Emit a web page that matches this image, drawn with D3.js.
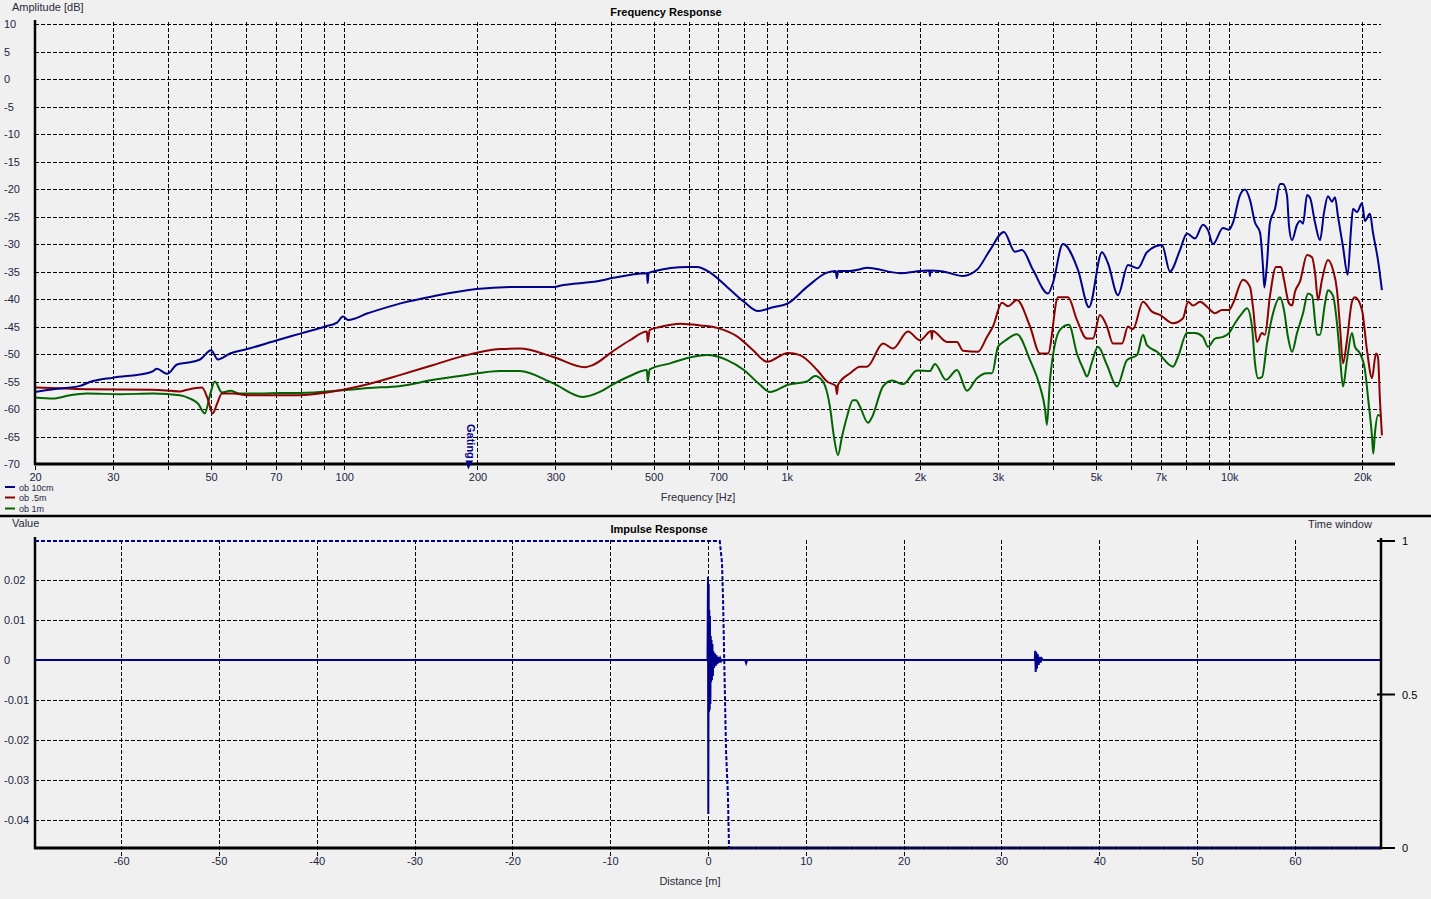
<!DOCTYPE html>
<html><head><meta charset="utf-8">
<script src="https://cdn.jsdelivr.net/npm/d3@7"></script>
<style>
html,body{margin:0;padding:0;background:#f0f0f0;}
svg{display:block;font-family:"Liberation Sans",Arial,sans-serif;}
</style></head><body>
<svg id="chart" width="1431" height="899"></svg>
<script>
// ---------- Frequency response data ----------
const seriesNames = ["ob 10cm", "ob .5m", "ob 1m"];

const blueFreq = [20,22,25.3,26.6,30,35.8,37,37.7,39.8,41.9,44.1,47.2,50,51.8,55.2,60.3,70.5,80.3,90.5,96.3,99.3,102,113,134,159,199,249,299,307,378,403,483,485,487,499,598,627,671,733,800,861,931,1006,1111,1233,1290,1298,1306,1390,1464,1518,1802,2011,2100,2106,2112,2254,2502,2690,2879,3096,3278,3400,3601,3894,3994,4208,4551,4820,5156,5320,5604,5904,6218,6516,7046,7345,7738,8024,8365,8721,8952,9188,9678,9986,10196,10576,10854,11140,11434,11736,11920,12002,12152,12362,12688,13022,13226,13506,13646,13862,14228,14452,14678,14988,15224,15624,16036,16372,16714,17068,17338,17610,18074,18518,18838,19036,19438,19950,20260,20794,21122,21678,22132];
const blueDb = [-56.9,-56.4,-55.8,-55.1,-54.3,-53.5,-53.1,-52.7,-53.6,-51.9,-51.6,-51.0,-49.3,-51.0,-49.9,-49.1,-47.5,-46.2,-45.0,-44.3,-43.2,-43.8,-42.6,-40.8,-39.5,-38.2,-37.8,-37.8,-37.6,-36.7,-36.2,-35.3,-37.1,-35.3,-35.0,-34.2,-34.2,-35.2,-37.8,-40.5,-42.2,-41.5,-40.8,-37.8,-35.2,-34.9,-36.2,-34.9,-34.9,-34.6,-34.3,-35.3,-34.9,-34.8,-35.8,-34.8,-35.0,-35.8,-34.7,-31.1,-27.8,-31.4,-31.1,-34.7,-39.0,-37.1,-30.0,-34.7,-41.5,-31.5,-33.5,-39.3,-33.8,-34.4,-31.5,-30.2,-35.0,-31.1,-28.1,-29.0,-26.5,-27.5,-30.0,-27.1,-27.4,-26.1,-21.1,-20.1,-22.0,-26.1,-27.9,-34.2,-37.9,-34.2,-26.1,-23.6,-19.1,-19.1,-21.2,-26.7,-29.3,-26.5,-25.8,-26.3,-21.1,-21.6,-26.1,-29.3,-24.3,-21.3,-22.3,-21.5,-25.0,-30.5,-35.6,-27.5,-23.6,-24.2,-22.6,-25.8,-24.5,-27.9,-32.9,-38.4];

const redFreq = [20,26.2,37,42.5,44.1,47.7,49,50.4,51.6,52.9,56,61.2,71.6,79.4,91.4,99.3,113,134,159,189,225,249,296,350,365,403,442,483,485,490,517,574,637,699,772,839,902,1006,1071,1171,1233,1290,1298,1306,1390,1464,1518,1650,1738,1879,2000,2120,2128,2136,2302,2425,2502,2704,2834,2924,3064,3162,3312,3546,3734,3894,4102,4322,4526,4768,4920,5102,5292,5462,5724,5904,6058,6384,6688,6972,7462,7862,8070,8280,8588,8906,9284,9628,9986,10196,10740,11140,11312,11552,11856,12042,12362,12754,13088,13294,13646,13862,14078,14452,14988,15382,15624,15870,16202,16714,17156,17516,17792,18074,18452,18938,19236,19950,20476,21016,21458,21678,21906,22132];
const redDb = [-56.1,-56.4,-56.5,-56.8,-56.5,-56.1,-57.9,-60.8,-59.0,-57.2,-57.2,-57.5,-57.5,-57.5,-57.0,-56.5,-55.5,-53.8,-52.0,-50.2,-49.1,-49.0,-50.5,-52.4,-52.0,-49.6,-47.5,-45.9,-47.8,-45.6,-45.1,-44.5,-44.8,-45.3,-46.8,-49.3,-51.4,-49.8,-50.2,-52.9,-55.0,-55.8,-57.3,-55.6,-53.5,-52.3,-52.3,-48.1,-49.0,-45.9,-47.5,-45.8,-47.3,-45.8,-47.8,-47.8,-49.4,-49.6,-46.9,-45.0,-40.7,-41.3,-40.2,-45.0,-49.9,-49.9,-39.7,-39.7,-43.8,-47.2,-47.2,-42.9,-45.0,-48.1,-48.1,-45.0,-45.5,-40.5,-42.3,-42.9,-44.4,-43.5,-40.5,-41.2,-40.5,-41.4,-42.6,-42.0,-42.0,-40.8,-36.5,-37.8,-41.4,-47.8,-46.2,-46.5,-39.4,-34.2,-34.2,-36.5,-40.8,-41.2,-38.7,-36.8,-32.0,-32.4,-35.2,-40.2,-36.5,-32.9,-34.7,-38.4,-45.0,-51.7,-47.5,-40.5,-39.7,-42.0,-49.3,-54.4,-49.9,-50.5,-58.4,-64.8];

const greenFreq = [20,22,24,26.2,31.1,37,42.5,44.8,46.7,48.4,49.7,51,52.9,55.2,58.1,64.5,71.6,79.4,99.3,113,134,159,189,225,249,296,346,378,403,442,483,485,490,545,614,660,733,800,870,916,1006,1111,1158,1207,1252,1278,1305,1333,1368,1411,1434,1464,1526,1558,1650,1729,1831,1969,2106,2162,2290,2425,2554,2690,2834,2910,3002,3114,3312,3546,3734,3834,3872,3934,4144,4342,4526,4694,4768,4894,5050,5292,5574,5874,6188,6384,6516,6866,7462,7660,8024,8365,8721,8952,9284,9678,9986,10302,10686,10966,11254,11434,11612,11856,12170,12560,13022,13294,13574,13862,14228,14678,15064,15382,15786,16036,16458,16714,17156,17516,17792,18074,18452,18938,19236,19744,20260,20580,21016,21156,21342,21678,21906];
const greenDb = [-57.9,-58.1,-57.5,-57.2,-57.3,-57.2,-57.5,-58.1,-59.0,-60.8,-57.5,-55.0,-57.0,-56.7,-57.2,-57.2,-57.1,-57.1,-56.6,-56.2,-55.8,-54.7,-53.8,-53.1,-53.1,-55.3,-57.8,-56.9,-55.6,-54.0,-52.9,-55.0,-52.8,-51.7,-50.5,-50.2,-51.1,-52.9,-55.6,-56.9,-55.6,-55.0,-54.0,-55.0,-59.6,-65.0,-68.4,-65.0,-61.4,-58.4,-58.4,-59.6,-62.5,-61.5,-55.9,-54.8,-55.5,-53.0,-53.1,-51.8,-54.7,-52.9,-56.7,-54.4,-53.5,-53.5,-48.7,-47.6,-46.4,-51.1,-55.9,-60.0,-62.9,-54.7,-45.6,-44.7,-49.9,-53.0,-54.1,-51.5,-48.7,-52.0,-55.9,-51.1,-50.2,-46.5,-48.4,-49.6,-52.3,-50.5,-46.2,-46.2,-46.9,-48.7,-47.2,-46.9,-46.2,-44.4,-42.6,-41.7,-45.0,-51.7,-54.4,-54.2,-48.1,-42.6,-39.7,-42.0,-46.9,-49.6,-46.2,-42.6,-39.0,-39.4,-46.5,-46.5,-40.8,-38.4,-39.4,-44.4,-50.5,-55.9,-51.1,-46.2,-48.7,-49.9,-52.9,-57.8,-65.0,-68.1,-64.4,-61.1,-61.3];

const seriesColors = ["#00008b", "#8b0000", "#006400"];

// axes of the frequency chart
const ampTicks = [10,5,0,-5,-10,-15,-20,-25,-30,-35,-40,-45,-50,-55,-60,-65,-70];
const freqGridVals = [20,30,40,50,60,70,80,90,100,200,300,400,500,600,700,800,900,1000,2000,3000,4000,5000,6000,7000,8000,9000,10000,20000];
const freqLabelVals = [20,30,50,70,100,200,300,500,700,1000,2000,3000,5000,7000,10000,20000];
const freqLabels = ["20","30","50","70","100","200","300","500","700","1k","2k","3k","5k","7k","10k","20k"];
const gatingFreq = 192;

// ---------- Impulse response data ----------
const impulseDist = [-68.8,-0.05,0,0.03,0.07,0.1,0.13,0.17,0.2,0.24,0.28,0.32,0.36,0.4,0.45,0.5,0.55,0.62,0.7,0.78,0.86,0.95,1.05,1.15,1.25,1.35,1.45,3.8,3.9,4.0,33.4,33.45,33.5,33.55,33.62,33.7,33.8,33.9,34.0,34.1,34.25,68.8];
const impulseVal = [0,0,0.0208,-0.0385,0.019,-0.013,0.0125,-0.0125,0.011,-0.011,0.006,-0.0055,0.005,-0.005,0.004,-0.004,0.0022,-0.002,0.0017,-0.0015,0.0012,-0.001,0.0008,-0.0006,0.0004,-0.0003,0,0,-0.0008,0,0,0.0023,-0.003,0.002,-0.0022,0.0015,-0.0012,0.0008,-0.0006,0.0004,0,0];
const windowDist = [-68.8,1.2,1.43,1.53,1.64,1.84,2.04,2.15,68.8];
const windowVal = [1,1,0.93,0.82,0.645,0.32,0.166,0,0];

const valueTicks = [0.02,0.01,0,-0.01,-0.02,-0.03,-0.04];
const valueLabels = ["0.02","0.01","0","-0.01","-0.02","-0.03","-0.04"];
const distTicks = [-60,-50,-40,-30,-20,-10,0,10,20,30,40,50,60];
const windowTicks = [1,0.5,0];

// ---------- drawing ----------
const svg = d3.select("#chart");
svg.append("rect").attr("width",1431).attr("height",899).attr("fill","#f0f0f0");
const tickColor = "#1c2446";
const fs = 11;
const plainNum = d => String(d);

// ===== Top chart =====
const xF = d3.scaleLog().domain([20, 23690]).range([35, 1395]);
const yA = d3.scaleLinear().domain([-70, 10]).range([464, 24]);
const gTop = svg.append("g");

// grid
gTop.append("g").selectAll("line").data(freqGridVals).join("line")
  .attr("x1", d=>Math.round(xF(d))+0.5).attr("x2", d=>Math.round(xF(d))+0.5).attr("y1", 22).attr("y2", 472)
  .attr("stroke","#000").attr("stroke-width",1).attr("stroke-dasharray","4,2")
  .attr("shape-rendering","crispEdges");
gTop.append("g").selectAll("line").data(ampTicks.filter(d=>d>-70)).join("line")
  .attr("x1", 35).attr("x2", 1381).attr("y1", d=>Math.round(yA(d))+0.5).attr("y2", d=>Math.round(yA(d))+0.5)
  .attr("stroke","#000").attr("stroke-width",1).attr("stroke-dasharray","4,2")
  .attr("shape-rendering","crispEdges");

// y axis labels
const yAxisTop = d3.axisLeft(yA).tickValues(ampTicks).tickSize(0).tickFormat(plainNum);
const gy = gTop.append("g").attr("transform","translate(35,0)").call(yAxisTop);
gy.select(".domain").remove();
gy.selectAll("text").attr("x",-31).attr("text-anchor","start").attr("fill",tickColor)
  .style("font-size",fs+"px").style("font-family","Liberation Sans, Arial, sans-serif");

// x axis labels
const xAxisTop = d3.axisBottom(xF).tickValues(freqLabelVals).tickSize(0)
  .tickFormat((d,i)=>freqLabels[i]);
const gx = gTop.append("g").attr("transform","translate(0,464)").call(xAxisTop);
gx.select(".domain").remove();
gx.selectAll("text").attr("y",9).attr("fill",tickColor)
  .style("font-size",fs+"px").style("font-family","Liberation Sans, Arial, sans-serif");

// curves
const lineF = d3.line().x(d=>xF(d[0])).y(d=>yA(d[1])).curve(d3.curveMonotoneX);
const series = [
  {f: greenFreq, v: greenDb, c: seriesColors[2]},
  {f: redFreq, v: redDb, c: seriesColors[1]},
  {f: blueFreq, v: blueDb, c: seriesColors[0]}
];
series.forEach(s=>{
  gTop.append("path").datum(s.f.map((f,i)=>[f, s.v[i]]))
    .attr("d", lineF).attr("fill","none").attr("stroke", s.c).attr("stroke-width",2)
    .attr("stroke-linejoin","round");
});

// axes lines
gTop.append("line").attr("x1",35).attr("x2",35).attr("y1",20).attr("y2",465)
  .attr("stroke","#000").attr("stroke-width",2.5);
gTop.append("line").attr("x1",34).attr("x2",1395).attr("y1",yA(-70)).attr("y2",yA(-70))
  .attr("stroke","#000").attr("stroke-width",3);

// Gating marker
const gxp = xF(gatingFreq);
gTop.append("path").attr("d", `M${gxp-4},${460.5} L${gxp+3.5},${460.5} L${gxp-1.5},${469.5} Z`)
  .attr("fill","#00008b");
gTop.append("text").attr("transform",`translate(${gxp-2.5},424) rotate(90)`)
  .attr("fill","#00008b").style("font-size","11px").style("font-weight","bold")
  .text("Gating");

// titles
svg.append("text").attr("x",666).attr("y",16).attr("text-anchor","middle")
  .style("font-size","11px").style("font-weight","bold").attr("fill","#000").text("Frequency Response");
svg.append("text").attr("x",12).attr("y",11)
  .style("font-size","11px").attr("fill","#2a2a3a").text("Amplitude [dB]");
svg.append("text").attr("x",698).attr("y",501).attr("text-anchor","middle")
  .style("font-size","11px").attr("fill","#2a2a3a").text("Frequency [Hz]");

// legend
const legendY = [487, 497.5, 508.5];
seriesNames.forEach((n,i)=>{
  svg.append("line").attr("x1",5).attr("x2",15).attr("y1",legendY[i]).attr("y2",legendY[i])
    .attr("stroke",seriesColors[i]).attr("stroke-width",2);
  svg.append("text").attr("x",19).attr("y",legendY[i]+3.5)
    .style("font-size","9px").attr("fill","#1c2446").text(n);
});

// separator
svg.append("line").attr("x1",0).attr("x2",1431).attr("y1",516).attr("y2",516)
  .attr("stroke","#000").attr("stroke-width",2.5);

// ===== Bottom chart =====
const xD = d3.scaleLinear().domain([-68.8, 68.8]).range([35, 1381]);
const yV = d3.scaleLinear().domain([-0.047, 0.03]).range([848, 540]);
const yW = d3.scaleLinear().domain([0, 1]).range([848, 541]);
const gBot = svg.append("g");

gBot.append("g").selectAll("line").data(distTicks).join("line")
  .attr("x1", d=>Math.round(xD(d))+0.5).attr("x2", d=>Math.round(xD(d))+0.5).attr("y1", 540).attr("y2", 856)
  .attr("stroke","#000").attr("stroke-width",1).attr("stroke-dasharray","4,2")
  .attr("shape-rendering","crispEdges");
gBot.append("g").selectAll("line").data(valueTicks.filter(d=>d!==0)).join("line")
  .attr("x1", 35).attr("x2", 1381).attr("y1", d=>Math.round(yV(d))+0.5).attr("y2", d=>Math.round(yV(d))+0.5)
  .attr("stroke","#000").attr("stroke-width",1).attr("stroke-dasharray","4,2")
  .attr("shape-rendering","crispEdges");

const yAxisBot = d3.axisLeft(yV).tickValues(valueTicks).tickSize(0).tickFormat((d,i)=>valueLabels[i]);
const gyb = gBot.append("g").attr("transform","translate(35,0)").call(yAxisBot);
gyb.select(".domain").remove();
gyb.selectAll("text").attr("x",-31).attr("text-anchor","start").attr("fill",tickColor)
  .style("font-size",fs+"px").style("font-family","Liberation Sans, Arial, sans-serif");

const xAxisBot = d3.axisBottom(xD).tickValues(distTicks).tickSize(0).tickFormat(plainNum);
const gxb = gBot.append("g").attr("transform","translate(0,848)").call(xAxisBot);
gxb.select(".domain").remove();
gxb.selectAll("text").attr("y",9).attr("fill",tickColor)
  .style("font-size",fs+"px").style("font-family","Liberation Sans, Arial, sans-serif");

// right axis (time window)
const wAxis = d3.axisRight(yW).tickValues(windowTicks).tickSize(0).tickFormat(plainNum);
const gw = gBot.append("g").attr("transform","translate(1381,0)").call(wAxis);
gw.select(".domain").remove();
gw.selectAll("text").attr("x",21).attr("fill","#000")
  .style("font-size",fs+"px").style("font-family","Liberation Sans, Arial, sans-serif");
gBot.append("g").selectAll("line").data(windowTicks).join("line")
  .attr("x1",1377).attr("x2",1395).attr("y1",d=>yW(d)).attr("y2",d=>yW(d))
  .attr("stroke","#000").attr("stroke-width",2);

// impulse curve
const lineI = d3.line().x(d=>xD(d[0])).y(d=>yV(d[1]));
gBot.append("path").datum(impulseDist.map((d,i)=>[d, impulseVal[i]]))
  .attr("d", lineI).attr("fill","none").attr("stroke","#00008b").attr("stroke-width",2)
  .attr("stroke-linejoin","miter");

// axes lines
gBot.append("line").attr("x1",35).attr("x2",35).attr("y1",537).attr("y2",849)
  .attr("stroke","#000").attr("stroke-width",2.5);
gBot.append("line").attr("x1",34).attr("x2",1382).attr("y1",848).attr("y2",848)
  .attr("stroke","#000").attr("stroke-width",3);
gBot.append("line").attr("x1",1381).attr("x2",1381).attr("y1",538).attr("y2",849)
  .attr("stroke","#000").attr("stroke-width",2.5);

// time window
const lineW = d3.line().x(d=>xD(d[0])).y(d=>yW(d[1]));
gBot.append("path").datum(windowDist.map((d,i)=>[d, windowVal[i]]))
  .attr("d", lineW).attr("fill","none").attr("stroke","#00008b").attr("stroke-width",2)
  .attr("stroke-dasharray","4,2");

// titles
svg.append("text").attr("x",659).attr("y",533).attr("text-anchor","middle")
  .style("font-size","11px").style("font-weight","bold").attr("fill","#000").text("Impulse Response");
svg.append("text").attr("x",12).attr("y",527)
  .style("font-size","11px").attr("fill","#2a2a3a").text("Value");
svg.append("text").attr("x",1340).attr("y",528).attr("text-anchor","middle")
  .style("font-size","11px").attr("fill","#2a2a3a").text("Time window");
svg.append("text").attr("x",690).attr("y",885).attr("text-anchor","middle")
  .style("font-size","11px").attr("fill","#2a2a3a").text("Distance [m]");
</script>
</body></html>
